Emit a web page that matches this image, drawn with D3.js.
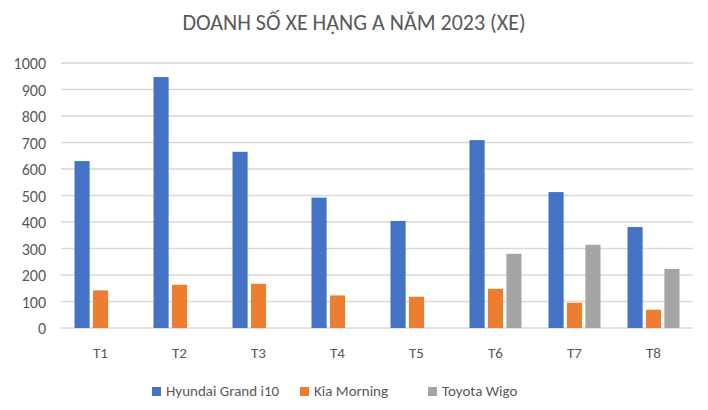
<!DOCTYPE html>
<html><head><meta charset="utf-8">
<script src="https://cdn.jsdelivr.net/npm/d3@7"></script>
<style>body{margin:0;background:#fff}text{font-family:Calibri,Carlito,"Liberation Sans",sans-serif}</style>
</head><body><svg id="c" width="708" height="410"></svg>
<script>
const months = ['T1','T2','T3','T4','T5','T6','T7','T8'];
const seriesNames = ['Hyundai Grand i10','Kia Morning','Toyota Wigo'];
const hyundai = [630,947,665,492,404,709,513,381];
const kia = [142,163,167,123,118,148,95,69];
const wigo = [null,null,null,null,null,280,314,223];
const colors = ['#4472C4','#ED7D31','#A5A5A5'];
const yTicks = [0,100,200,300,400,500,600,700,800,900,1000];

const svg = d3.select('#c');
const plotLeft = 61, plotRight = 693, plotTop = 63, plotBottom = 328;
const x = d3.scaleBand().domain(months).range([plotLeft, plotRight]);
const y = d3.scaleLinear().domain([0,1000]).range([plotBottom, plotTop]);
const inner = d3.scaleBand().domain(seriesNames).range([0, 52]).paddingInner(0.18);

svg.append('text').attr('x',354).attr('y',30).attr('text-anchor','middle')
  .attr('font-size',22).attr('fill','#595959').text('DOANH SỐ XE HẠNG A NĂM 2023 (XE)');

svg.append('g').selectAll('line').data(yTicks).enter().append('line')
  .attr('x1',plotLeft).attr('x2',plotRight).attr('y1',d=>y(d)).attr('y2',d=>y(d))
  .attr('stroke','#d9d9d9').attr('stroke-width',1.3);

svg.append('g').selectAll('text').data(yTicks).enter().append('text')
  .attr('x',46).attr('y',d=>y(d)+6).attr('text-anchor','end').attr('font-size',16).attr('fill','#595959').text(d=>d);

const all = [hyundai, kia, wigo];
all.forEach((vals, si) => {
  svg.append('g').selectAll('rect').data(vals.map((v,i)=>({v, m: months[i]})).filter(d=>d.v!=null))
    .enter().append('rect')
    .attr('x', d => x(d.m) + x.bandwidth()/2 - 26 + inner(seriesNames[si]))
    .attr('width', inner.bandwidth())
    .attr('y', d => y(d.v)).attr('height', d => plotBottom - y(d.v))
    .attr('fill', colors[si]);
});

svg.append('g').selectAll('text').data(months).enter().append('text')
  .attr('x', d => x(d) + x.bandwidth()/2).attr('y', 358).attr('text-anchor','middle')
  .attr('font-size',15).attr('fill','#595959').text(d=>d);

const legendX = [152, 300, 428];
seriesNames.forEach((n,i) => {
  svg.append('rect').attr('x',legendX[i]).attr('y',387).attr('width',9).attr('height',9).attr('fill',colors[i]);
  svg.append('text').attr('x',legendX[i]+14).attr('y',396).attr('font-size',15).attr('fill','#595959').text(n);
});
</script></body></html>
